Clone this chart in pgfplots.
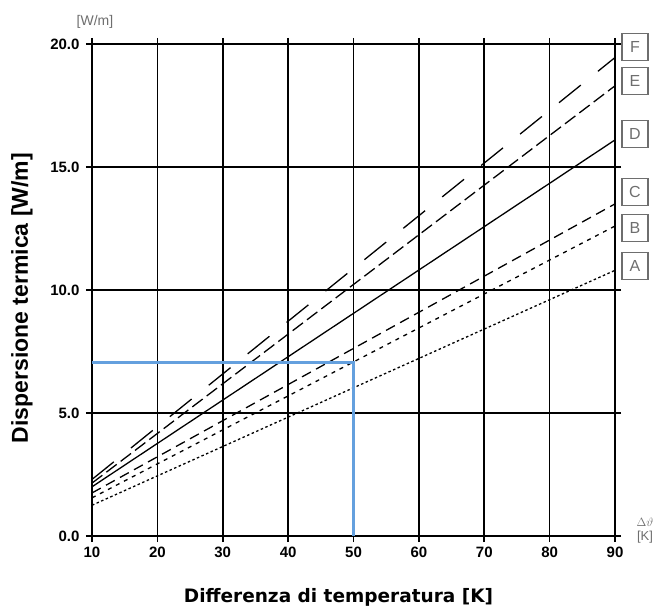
\documentclass[border=0pt]{standalone}
\usepackage{fontspec}
\setmainfont{Liberation Sans}
\newfontfamily\dejavu{DejaVu Sans}
\usepackage{pgfplots}
\pgfplotsset{compat=1.18}
\definecolor{bluel}{RGB}{100,160,222}
\definecolor{lblgray}{RGB}{110,110,110}
\tikzset{lbox/.style={draw=lblgray, line width=1.2pt, text=lblgray, minimum width=26pt, minimum height=27pt, inner sep=0pt, font=\fontsize{16}{16}\selectfont, anchor=center, xshift=20pt}}
\begin{document}
\begin{tikzpicture}
\begin{axis}[
  at={(0,0)}, anchor=south west,
  scale only axis, width=523pt, height=492pt,
  xmin=10, xmax=90, ymin=0, ymax=20,
  xtick={10,20,...,90}, ytick={0,5,10,15,20},
  grid=major,
  major grid style={black, line width=1.7pt},
  axis line style={black, line width=1.7pt},
  tick style={black, line width=1.7pt},
  tick align=outside, tick pos=both,
  major tick length=6pt,
  xticklabel pos=bottom, yticklabel pos=left,
  /pgf/number format/assume math mode=true,
  yticklabel style={/pgf/number format/.cd, fixed, fixed zerofill, precision=1, /tikz/.cd, font=\bfseries\fontsize{15}{15}\selectfont, xshift=-3pt},
  xticklabel style={font=\bfseries\fontsize{15}{15}\selectfont, yshift=-1pt},
  clip=false,
]
\addplot[black, line width=1.3pt, dash pattern=on 2.5pt off 2.5pt] coordinates {(10,1.25) (90,10.8)};
\addplot[black, line width=1.3pt, dash pattern=on 4pt off 5pt] coordinates {(10,1.55) (90,12.6)};
\addplot[black, line width=1.3pt, dash pattern=on 10pt off 6pt] coordinates {(10,1.75) (90,13.5)};
\addplot[black, line width=1.3pt] coordinates {(10,2.0) (90,16.1)};
\addplot[black, line width=1.3pt, dash pattern=on 13pt off 5pt] coordinates {(10,2.15) (90,18.3)};
\addplot[black, line width=1.3pt, dash pattern=on 28pt off 22pt] coordinates {(10,2.3) (90,19.45)};
\addplot[bluel, line width=2.6pt] coordinates {(10,7.05) (50,7.05) (50,0)};
\node[lbox] at (axis cs:90,19.88) {F};
\node[lbox] at (axis cs:90,18.50) {E};
\node[lbox] at (axis cs:90,16.34) {D};
\node[lbox] at (axis cs:90,13.98) {C};
\node[lbox] at (axis cs:90,12.52) {B};
\node[lbox] at (axis cs:90,10.98) {A};
\node[text=lblgray, font=\fontsize{14}{14}\selectfont, inner sep=0pt] at (rel axis cs:0,1) [xshift=3pt, yshift=22pt] {[W/m]};
\node[text=lblgray, font=\fontsize{12}{12}\selectfont, inner sep=0pt] at (rel axis cs:1,0) [xshift=30pt, yshift=14pt] {$\Delta\vartheta$};
\node[text=lblgray, font=\fontsize{13}{13}\selectfont, inner sep=0pt] at (rel axis cs:1,0) [xshift=30pt, yshift=-1pt] {[K]};
\node[font=\dejavu\bfseries\fontsize{18.5}{18.5}\selectfont] at (rel axis cs:0.5,0) [xshift=-15pt, yshift=-61pt] {Differenza di temperatura [K]};
\node[xshift=-70pt, yshift=-8pt, rotate=90, font=\bfseries\fontsize{23}{23}\selectfont] at (rel axis cs:0,0.5) {Dispersione termica [W/m]};
\end{axis}
\path (-92pt,-74pt) rectangle (563pt,536pt);
\end{tikzpicture}
\end{document}
